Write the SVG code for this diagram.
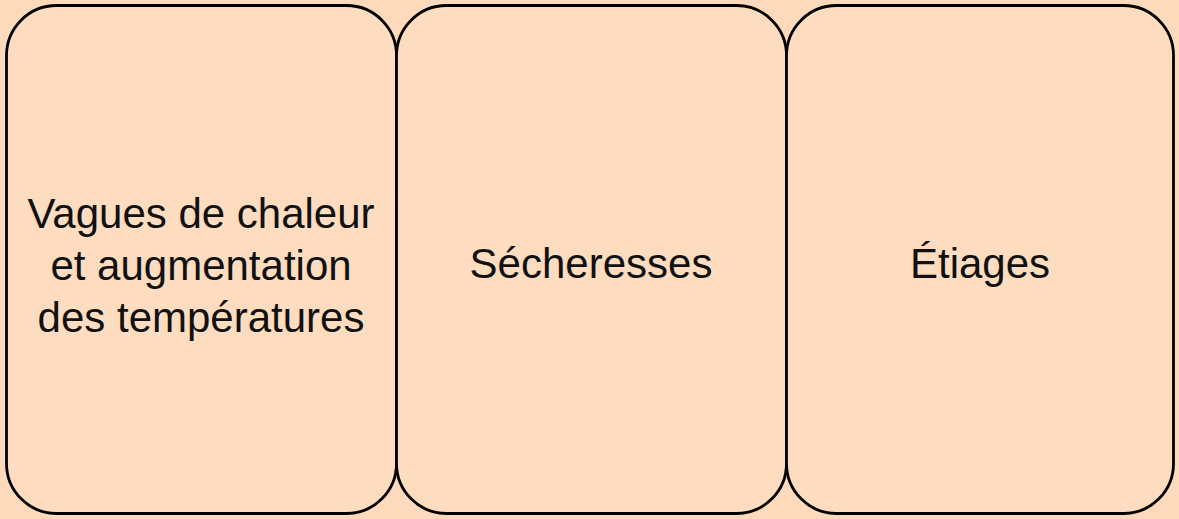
<svg xmlns="http://www.w3.org/2000/svg" width="1179" height="519" viewBox="0 0 1179 519">
<style>
.box{fill:#FEDCC0;stroke:#000;stroke-width:2.8}
.t{font-family:"Liberation Sans",Arial,sans-serif;font-size:42px;fill:#111;text-anchor:middle}
</style>
<rect x="0" y="0" width="1179" height="519" fill="#FDDABB"/>
<g id="connectors"></g>
<g id="node1">
<rect class="box" x="6.5" y="5.5" width="390" height="508" rx="50" ry="50"/>
<text class="t" x="201" y="228">Vagues de chaleur</text>
<text class="t" x="201" y="280">et augmentation</text>
<text class="t" x="201" y="332">des températures</text>
</g>
<g id="node2">
<rect class="box" x="396.5" y="5.5" width="390" height="508" rx="50" ry="50"/>
<text class="t" x="591" y="278">Sécheresses</text>
</g>
<g id="node3">
<rect class="box" x="786.5" y="5.5" width="387" height="508" rx="50" ry="50"/>
<text class="t" x="980" y="278">Étiages</text>
</g>
</svg>
